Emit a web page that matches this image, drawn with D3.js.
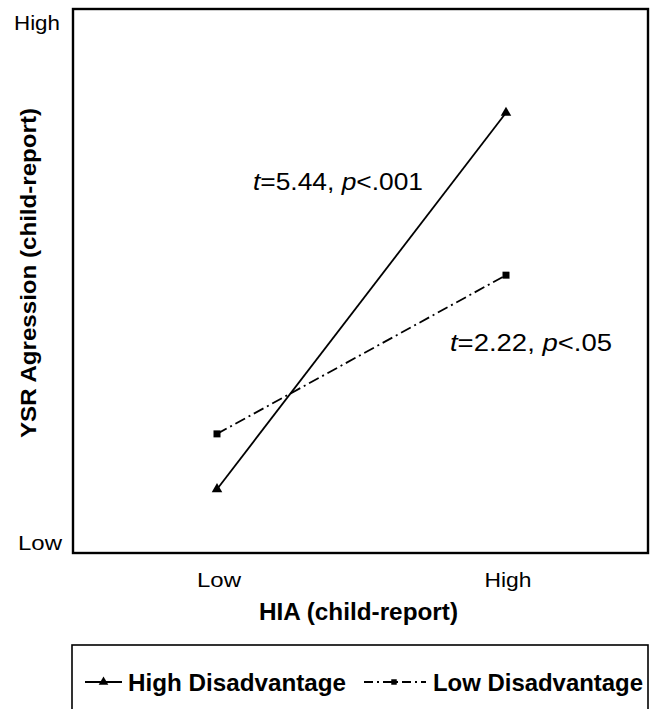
<!DOCTYPE html>
<html><head><meta charset="utf-8">
<script src="https://cdn.jsdelivr.net/npm/d3@7"></script>
<style>body{margin:0;background:#fff}svg{display:block}text{font-family:"Liberation Sans",Arial,sans-serif;fill:#000}</style>
</head><body>
<script>
const xCategories = ["Low", "High"];
const yTickLabels = ["Low", "High"];
const highDisadvantage = [1.06, 8.34];
const lowDisadvantage = [2.13, 5.20];
const seriesNames = ["High Disadvantage", "Low Disadvantage"];
const annotations = [
  {t: "5.44", p: "<.001"},
  {t: "2.22", p: "<.05"}
];

const W = 651, H = 709;
const svg = d3.select("body").append("svg").attr("width", W).attr("height", H);

const frame = {l: 73, t: 9, r: 648, b: 553};
const x = d3.scalePoint().domain(xCategories).range([217, 506]);
const y = d3.scaleLinear().domain([0, 10]).range([544, 27]);

// frame
svg.append("rect").attr("x", frame.l).attr("y", frame.t)
  .attr("width", frame.r - frame.l).attr("height", frame.b - frame.t)
  .attr("fill", "none").attr("stroke", "#000").attr("stroke-width", 2.4);

// y tick labels
const yLab = [{x: 62, y: 550, w: 44}, {x: 60, y: 30, w: 46}];
svg.append("g").selectAll("text").data(yTickLabels).join("text")
  .attr("x", (d, i) => yLab[i].x).attr("y", (d, i) => yLab[i].y)
  .attr("text-anchor", "end").style("font-size", "21px")
  .attr("textLength", (d, i) => yLab[i].w).attr("lengthAdjust", "spacingAndGlyphs").text(d => d);

// x tick labels
const xLabW = [44, 47];
svg.append("g").selectAll("text").data(xCategories).join("text")
  .attr("x", (d, i) => x(d) + 2 - xLabW[i] / 2).attr("y", 587)
  .style("font-size", "20px")
  .attr("textLength", (d, i) => xLabW[i]).attr("lengthAdjust", "spacingAndGlyphs").text(d => d);

// axis titles
svg.append("text").attr("x", 259).attr("y", 620)
  .style("font-size", "23px").style("font-weight", "bold")
  .attr("textLength", 199).attr("lengthAdjust", "spacingAndGlyphs").text("HIA (child-report)");
svg.append("text").attr("transform", "translate(36,438) rotate(-90)")
  .style("font-size", "22px").style("font-weight", "bold")
  .attr("textLength", 330).attr("lengthAdjust", "spacingAndGlyphs").text("YSR Agression (child-report)");

const line = d3.line().x((d, i) => x(xCategories[i])).y(d => y(d));

svg.append("path").datum(highDisadvantage).attr("d", line)
  .attr("fill", "none").attr("stroke", "#000").attr("stroke-width", 1.8);
svg.append("path").datum(lowDisadvantage).attr("d", line)
  .attr("fill", "none").attr("stroke", "#000").attr("stroke-width", 1.8)
  .attr("stroke-dasharray", "11,4,2,4");

const tri = d3.symbol().type(d3.symbolTriangle).size(48);
const sq = d3.symbol().type(d3.symbolSquare).size(49);
svg.append("g").selectAll("path").data(highDisadvantage).join("path")
  .attr("d", tri).attr("transform", (d, i) => `translate(${x(xCategories[i])},${y(d)})`);
svg.append("g").selectAll("path").data(lowDisadvantage).join("path")
  .attr("d", sq).attr("transform", (d, i) => `translate(${x(xCategories[i])},${y(d)})`);

// annotations
const annPos = [[253, 190, 170], [450, 351, 162]];
annotations.forEach((a, i) => {
  const t = svg.append("text").attr("x", annPos[i][0]).attr("y", annPos[i][1])
    .style("font-size", "24px")
    .attr("textLength", annPos[i][2]).attr("lengthAdjust", "spacingAndGlyphs");
  t.append("tspan").style("font-style", "italic").text("t");
  t.append("tspan").text("=" + a.t + ", ");
  t.append("tspan").style("font-style", "italic").text("p");
  t.append("tspan").text(a.p);
});

// legend
svg.append("rect").attr("x", 72).attr("y", 645).attr("width", 576).attr("height", 80)
  .attr("fill", "none").attr("stroke", "#000").attr("stroke-width", 1.6);
const ly = 682;
svg.append("line").attr("x1", 85).attr("x2", 122).attr("y1", ly).attr("y2", ly)
  .attr("stroke", "#000").attr("stroke-width", 1.8);
svg.append("path").attr("d", d3.symbol().type(d3.symbolTriangle).size(40))
  .attr("transform", `translate(103.5,${ly})`);
svg.append("text").attr("x", 128).attr("y", ly).attr("dy", "0.36em")
  .style("font-size", "24px").style("font-weight", "bold")
  .attr("textLength", 218).attr("lengthAdjust", "spacingAndGlyphs").text(seriesNames[0]);
svg.append("line").attr("x1", 364).attr("x2", 426).attr("y1", ly).attr("y2", ly)
  .attr("stroke", "#000").attr("stroke-width", 1.8).attr("stroke-dasharray", "9,4,2,4");
svg.append("path").attr("d", d3.symbol().type(d3.symbolSquare).size(30))
  .attr("transform", `translate(394,${ly})`);
svg.append("text").attr("x", 433).attr("y", ly).attr("dy", "0.36em")
  .style("font-size", "24px").style("font-weight", "bold")
  .attr("textLength", 210).attr("lengthAdjust", "spacingAndGlyphs").text(seriesNames[1]);
</script>
</body></html>
